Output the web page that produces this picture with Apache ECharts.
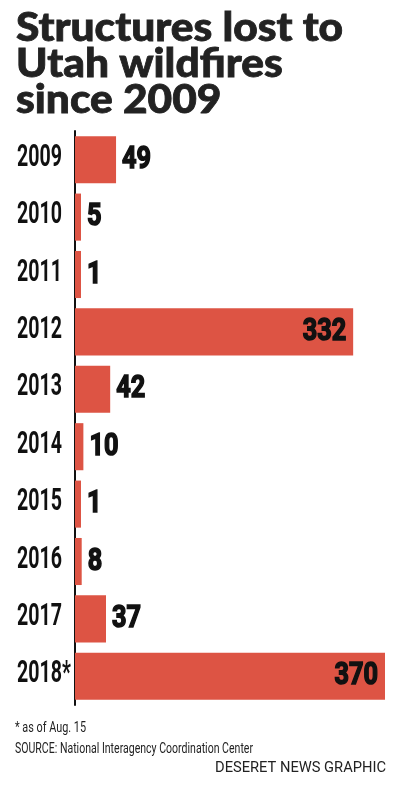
<!DOCTYPE html>
<html><head><meta charset="utf-8">
<script src="https://cdn.jsdelivr.net/npm/echarts@6/dist/echarts.min.js"></script>
<style>html,body{margin:0;padding:0;background:#fff}#c{width:400px;height:786px}</style>
</head><body><div id="c"></div>
<script>
const years = ['2009','2010','2011','2012','2013','2014','2015','2016','2017','2018*'];
const structuresLost = [49,5,1,332,42,10,1,8,37,370];
const titleLines = ['Structures lost to','Utah wildfires','since 2009'];
const footnote = '* as of Aug. 15';
const source = 'SOURCE: National Interagency Coordination Center';
const credit = 'DESERET NEWS GRAPHIC';
const insideThreshold = 200;

const ctx = document.createElement('canvas').getContext('2d');
function fit(text, font, target){ ctx.font = font; return target / ctx.measureText(text).width; }

const yearFont = 'bold 32px Roboto';
const valueFont = 'bold 32px Roboto';
const titleFont = '900 40px Lato';
const noteFont = '14px Roboto';
const yearScale = fit('2009', yearFont, 45);
const valueScale = fit('49', valueFont, 29);
const titleScale = fit(titleLines[0], titleFont, 327);

const chart = echarts.init(document.getElementById('c'));
const MIN_BAR = 6;
chart.setOption({
  animation:false,
  grid:{left:75, right:15, top:131, height:574, containLabel:false, outerBoundsMode:'none'},
  xAxis:{type:'value', min:0, max:370, show:false},
  yAxis:{type:'category', data:years, inverse:true,
    axisLine:{show:true, lineStyle:{color:'#111', width:2}},
    axisTick:{show:false}, axisLabel:{show:false}},
  graphic:[
    ...titleLines.map((t,k)=>({type:'text', x:16, y:28+k*36, scaleX:titleScale,
      style:{text:t, font:titleFont, fill:'#222', stroke:'#222', lineWidth:0.8, align:'left', verticalAlign:'middle'}})),
    {type:'text', x:15, y:728, scaleX:fit(footnote, noteFont, 71), style:{text:footnote, font:noteFont, fill:'#222', verticalAlign:'middle'}},
    {type:'text', x:15, y:749, scaleX:fit(source, noteFont, 238), style:{text:source, font:noteFont, fill:'#222', verticalAlign:'middle'}},
    {type:'text', x:386, y:768, scaleX:fit(credit, noteFont, 171), style:{text:credit, font:noteFont, fill:'#222', align:'right', verticalAlign:'middle'}}
  ],
  series:[
    {type:'bar', data:structuresLost, barCategoryGap:'18%', barMinHeight:MIN_BAR,
     itemStyle:{color:'#dd5444'}},
    {type:'custom', data:structuresLost.map((v,i)=>[v,i]), encode:{x:0,y:1}, z:5,
     renderItem:function(params, api){
       const v = api.value(0), i = api.value(1);
       const end = api.coord([v, i]); const base = api.coord([0, i]);
       const barEnd = Math.max(end[0], base[0] + MIN_BAR);
       const inside = v > insideThreshold;
       return {type:'group', children:[
         {type:'text', x: base[0]-58, y: end[1]-2, scaleX: yearScale,
          style:{text: years[i], font: yearFont, fill:'#111', align:'left', verticalAlign:'middle'}},
         {type:'text', x: inside ? barEnd-7 : barEnd+6, y: end[1], scaleX: valueScale,
          style:{text: String(v), font: valueFont, fill:'#111', stroke:'#111', lineWidth:1.6,
                 align: inside ? 'right':'left', verticalAlign:'middle'}}
       ]};
     }}
  ]
});
</script></body></html>
